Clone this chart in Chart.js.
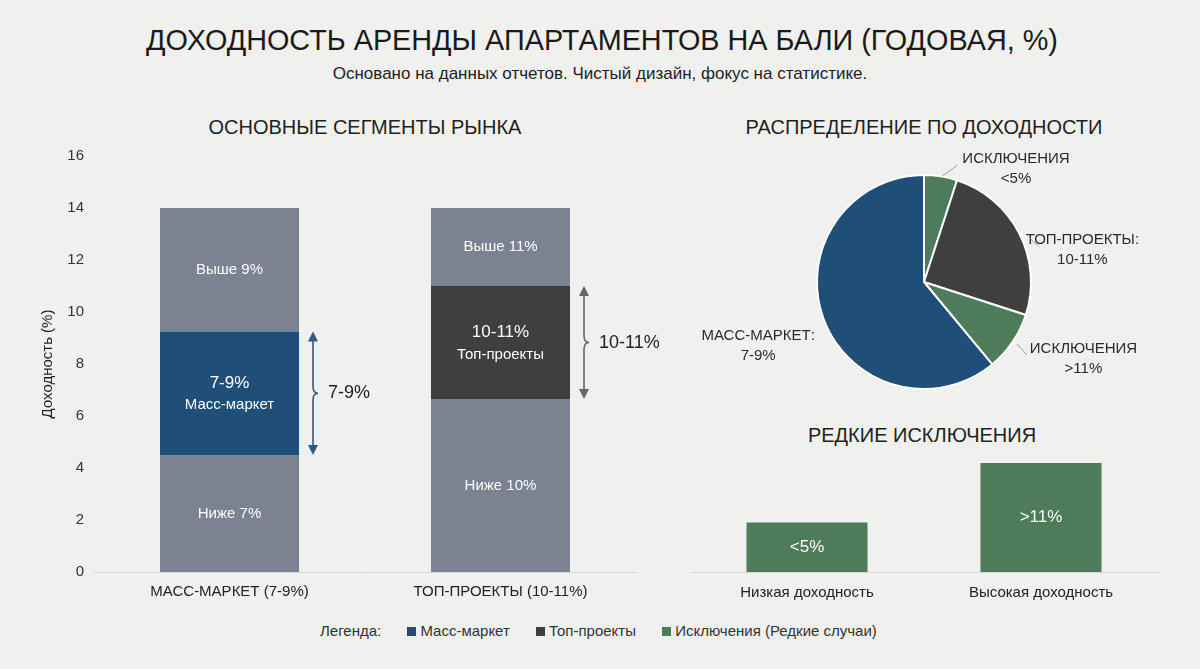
<!DOCTYPE html>
<html lang="ru">
<head>
<meta charset="utf-8">
<title>Доходность аренды апартаментов на Бали</title>
<script src="https://cdn.jsdelivr.net/npm/chart.js@4.4.1/dist/chart.umd.min.js"></script>
<style>
  html, body { margin: 0; padding: 0; }
  body {
    width: 1200px; height: 669px; overflow: hidden; position: relative;
    background: #f0f0ee; font-family: "Liberation Sans", Arial, sans-serif; color: #222;
  }
  .txt { position: absolute; white-space: nowrap; transform: translate(-50%, -50%); }
  #title { left: 602px; top: 40px; font-size: 28.8px; color: #1a1a1a; }
  #subtitle { left: 600px; top: 74px; font-size: 17px; color: #222; }
  .sect { font-size: 20px; color: #1f1f1f; }
  .box { position: absolute; }
  #legend { position: absolute; left: 320px; top: 622px; font-size: 15px; color: #333; white-space: nowrap; }
  #legend span.sw { display: inline-block; width: 9px; height: 9px; margin: 0 4px 1px 0; vertical-align: middle; }
  #legend span.it { margin-right: 22px; }
</style>
</head>
<body>
<div id="title" class="txt">ДОХОДНОСТЬ АРЕНДЫ АПАРТАМЕНТОВ НА БАЛИ (ГОДОВАЯ, %)</div>
<div id="subtitle" class="txt">Основано на данных отчетов. Чистый дизайн, фокус на статистике.</div>
<div class="txt sect" style="left:365px;top:127px;">ОСНОВНЫЕ СЕГМЕНТЫ РЫНКА</div>
<div class="txt sect" style="left:924px;top:127px;">РАСПРЕДЕЛЕНИЕ ПО ДОХОДНОСТИ</div>
<div class="txt sect" style="left:922px;top:435px;">РЕДКИЕ ИСКЛЮЧЕНИЯ</div>

<div class="box" style="left:0;top:137px;width:700px;height:483px;"><canvas id="segChart"></canvas></div>
<div class="box" style="left:700px;top:140px;width:500px;height:280px;"><canvas id="pieChart"></canvas></div>
<div class="box" style="left:680px;top:445px;width:520px;height:170px;"><canvas id="rareChart"></canvas></div>

<div id="legend">
  <span class="it">Легенда:</span>
  <span class="it"><span class="sw" style="background:#1f4e79"></span>Масс-маркет</span>
  <span class="it"><span class="sw" style="background:#3f3f3f"></span>Топ-проекты</span>
  <span><span class="sw" style="background:#4e7b5a"></span>Исключения (Редкие случаи)</span>
</div>

<script>
// --- data: main segments (stacked, yield %) ---
const segCategories = ['МАСС-МАРКЕТ (7-9%)', 'ТОП-ПРОЕКТЫ (10-11%)'];
const lowerSeg = [4.5, 6.65];
const coreSeg = [4.75, 4.35];
const upperSeg = [4.75, 3.0];
const lowerLabels = ['Ниже 7%', 'Ниже 10%'];
const coreLabels = [['7-9%', 'Масс-маркет'], ['10-11%', 'Топ-проекты']];
const upperLabels = ['Выше 9%', 'Выше 11%'];
const bracketLabels = ['7-9%', '10-11%'];
const yTicks = [0, 2, 4, 6, 8, 10, 12, 14, 16];

// --- data: distribution pie ---
const pieLabels = [['ИСКЛЮЧЕНИЯ', '<5%'], ['ТОП-ПРОЕКТЫ:', '10-11%'], ['ИСКЛЮЧЕНИЯ', '>11%'], ['МАСС-МАРКЕТ:', '7-9%']];
const pieShares = [5, 25, 9, 61];

// --- data: rare exceptions ---
const rareCategories = ['Низкая доходность', 'Высокая доходность'];
const rareValues = [5, 11];
const rareLabels = ['<5%', '>11%'];

const GRAY = '#7b8291', BLUE = '#1f4e79', DARK = '#3f3f3f', GREEN = '#4e7b5a';
const FONT = '"Liberation Sans", Arial, sans-serif';
Chart.defaults.font.family = FONT;
Chart.defaults.color = '#333';

// labels inside stacked segments + brackets on the right
const segLabelPlugin = {
  id: 'segLabels',
  afterDatasetsDraw(chart) {
    const ctx = chart.ctx;
    ctx.save();
    ctx.textAlign = 'center';
    ctx.textBaseline = 'middle';
    ctx.fillStyle = '#fff';
    chart.data.datasets.forEach((ds, di) => {
      chart.getDatasetMeta(di).data.forEach((bar, i) => {
        const cy = (bar.y + bar.base) / 2;
        const lbl = ds.segLabels[i];
        if (Array.isArray(lbl)) {
          ctx.font = '17px ' + FONT;
          ctx.fillText(lbl[0], bar.x, cy - 10);
          ctx.font = '15px ' + FONT;
          ctx.fillText(lbl[1], bar.x, cy + 12);
        } else {
          ctx.font = '15px ' + FONT;
          ctx.fillText(lbl, bar.x, cy);
        }
      });
    });
    const colors = ['#2e5b86', '#666666'];
    chart.getDatasetMeta(1).data.forEach((bar, i) => {
      const x = bar.x + bar.width / 2 + 14;
      const top = bar.y, bot = bar.base, mid = (top + bot) / 2;
      ctx.strokeStyle = colors[i];
      ctx.fillStyle = colors[i];
      ctx.lineWidth = 1.6;
      ctx.beginPath();
      ctx.moveTo(x, top + 8);
      ctx.lineTo(x, mid - 7);
      ctx.quadraticCurveTo(x, mid, x + 5, mid);
      ctx.quadraticCurveTo(x, mid, x, mid + 7);
      ctx.lineTo(x, bot - 8);
      ctx.stroke();
      ctx.beginPath();
      ctx.moveTo(x, top); ctx.lineTo(x - 5, top + 10); ctx.lineTo(x + 5, top + 10); ctx.closePath(); ctx.fill();
      ctx.beginPath();
      ctx.moveTo(x, bot); ctx.lineTo(x - 5, bot - 10); ctx.lineTo(x + 5, bot - 10); ctx.closePath(); ctx.fill();
      ctx.fillStyle = '#222';
      ctx.textAlign = 'left';
      ctx.font = '18px ' + FONT;
      ctx.fillText(bracketLabels[i], x + 15, mid);
    });
    ctx.restore();
  }
};

new Chart(document.getElementById('segChart'), {
  type: 'bar',
  data: {
    labels: segCategories,
    datasets: [
      { label: 'lower', data: lowerSeg, backgroundColor: GRAY, segLabels: lowerLabels },
      { label: 'core', data: coreSeg, backgroundColor: [BLUE, DARK], segLabels: coreLabels },
      { label: 'upper', data: upperSeg, backgroundColor: GRAY, segLabels: upperLabels }
    ]
  },
  options: {
    responsive: true, maintainAspectRatio: false, animation: false,
    layout: { padding: { left: 39, right: 64, top: 12, bottom: 0 } },
    datasets: { bar: { categoryPercentage: 0.513, barPercentage: 1, borderWidth: 0 } },
    plugins: { legend: { display: false }, tooltip: { enabled: false } },
    scales: {
      x: {
        stacked: true,
        grid: { display: false, drawTicks: false },
        border: { display: true, color: '#d6d6d6', width: 1 },
        ticks: { padding: 11, color: '#222', font: { size: 15 } },
        afterFit(s) { s.height = 48; }
      },
      y: {
        stacked: true, min: 0, max: 16,
        afterBuildTicks(s) { s.ticks = yTicks.map(v => ({ value: v })); },
        grid: { display: false, drawTicks: false },
        border: { display: false },
        ticks: { padding: 10, color: '#333', font: { size: 15 } },
        title: { display: true, text: 'Доходность (%)', color: '#1f1f1f', font: { size: 15 }, padding: { top: 0, bottom: 0 } },
        afterFit(s) { s.width = 55; }
      }
    }
  },
  plugins: [segLabelPlugin]
});

// pie labels with short leader lines
const pieLabelPos = [[0.86, -1.06], [1.48, -0.30], [1.49, 0.72], [-1.55, 0.60]];
const pieLeaders = [[[0.17, -0.99], [0.31, -1.09]], [[0.98, -0.42], [1.06, -0.34]], [[0.87, 0.58], [0.96, 0.68]], null];
const pieLabelPlugin = {
  id: 'pieLabels',
  afterDatasetsDraw(chart) {
    const ctx = chart.ctx;
    const arc = chart.getDatasetMeta(0).data[0];
    const cx = arc.x, cy = arc.y, r = arc.outerRadius;
    ctx.save();
    ctx.textAlign = 'center';
    ctx.textBaseline = 'middle';
    ctx.font = '15px ' + FONT;
    ctx.fillStyle = '#2a2a2a';
    ctx.strokeStyle = '#999';
    ctx.lineWidth = 1;
    chart.data.labels.forEach((lbl, i) => {
      const p = pieLabelPos[i];
      const x = cx + p[0] * r, y = cy + p[1] * r;
      ctx.fillText(lbl[0], x, y - 10);
      ctx.fillText(lbl[1], x, y + 10);
      const ld = pieLeaders[i];
      if (ld) {
        ctx.beginPath();
        ctx.moveTo(cx + ld[0][0] * r, cy + ld[0][1] * r);
        ctx.lineTo(cx + ld[1][0] * r, cy + ld[1][1] * r);
        ctx.stroke();
      }
    });
    ctx.restore();
  }
};

new Chart(document.getElementById('pieChart'), {
  type: 'pie',
  data: {
    labels: pieLabels,
    datasets: [{ data: pieShares, backgroundColor: [GREEN, DARK, GREEN, BLUE], borderColor: '#ffffff', borderWidth: 2 }]
  },
  options: {
    responsive: true, maintainAspectRatio: false, animation: false,
    layout: { padding: { left: 116, right: 168, top: 34, bottom: 30 } },
    plugins: { legend: { display: false }, tooltip: { enabled: false } }
  },
  plugins: [pieLabelPlugin]
});

// rare exceptions
const rareLabelPlugin = {
  id: 'rareLabels',
  afterDatasetsDraw(chart) {
    const ctx = chart.ctx;
    ctx.save();
    ctx.textAlign = 'center';
    ctx.textBaseline = 'middle';
    ctx.fillStyle = '#fff';
    ctx.font = '17px ' + FONT;
    chart.getDatasetMeta(0).data.forEach((bar, i) => {
      ctx.fillText(rareLabels[i], bar.x, (bar.y + bar.base) / 2);
    });
    ctx.restore();
  }
};

new Chart(document.getElementById('rareChart'), {
  type: 'bar',
  data: {
    labels: rareCategories,
    datasets: [{ data: rareValues, backgroundColor: GREEN, borderWidth: 0 }]
  },
  options: {
    responsive: true, maintainAspectRatio: false, animation: false,
    layout: { padding: { left: 10, right: 42, top: 8, bottom: 0 } },
    datasets: { bar: { categoryPercentage: 0.517, barPercentage: 1 } },
    plugins: { legend: { display: false }, tooltip: { enabled: false } },
    scales: {
      x: {
        grid: { display: false, drawTicks: false },
        border: { display: true, color: '#d6d6d6', width: 1 },
        ticks: { padding: 12, color: '#222', font: { size: 15 } },
        afterFit(s) { s.height = 43; }
      },
      y: { display: false, min: 0, max: 12 }
    }
  },
  plugins: [rareLabelPlugin]
});
</script>
</body>
</html>
